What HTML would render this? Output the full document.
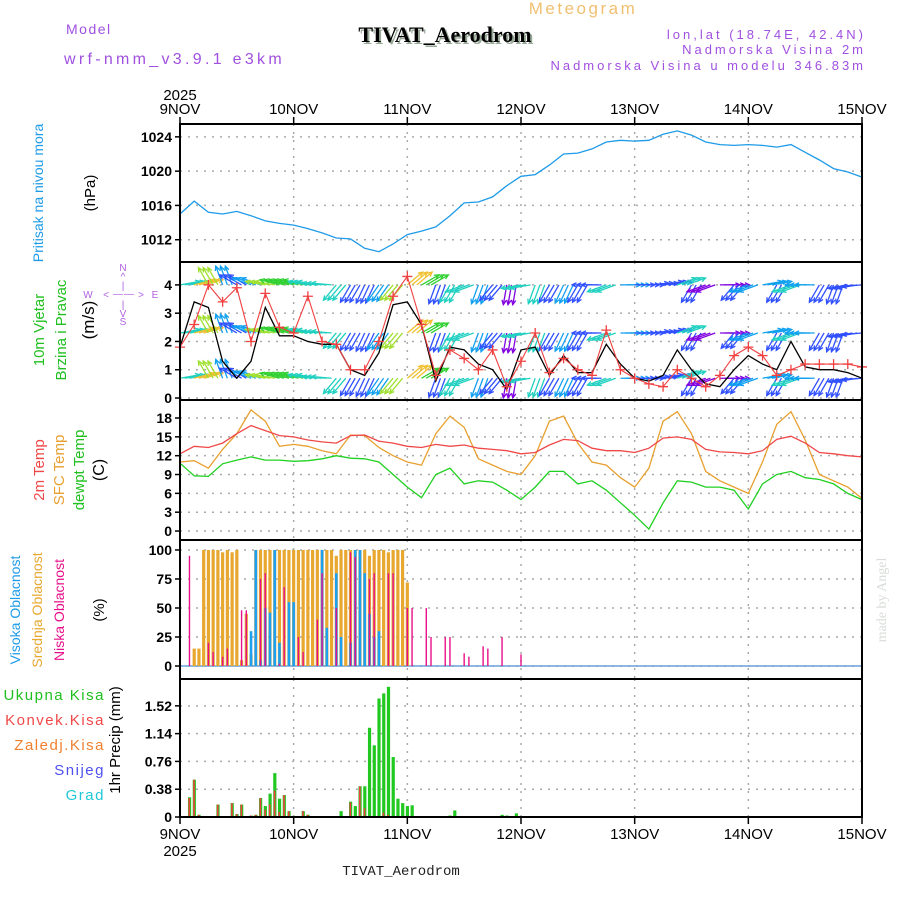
<!DOCTYPE html>
<html><head><meta charset="utf-8">
<style>
html,body{margin:0;padding:0;background:#fff;}
svg{display:block;font-family:"Liberation Sans",sans-serif;}
</style></head>
<body>
<svg id="chart" width="900" height="900" viewBox="0 0 900 900" xmlns="http://www.w3.org/2000/svg">
<rect x="0" y="0" width="900" height="900" fill="#fff"/>
<text x="583" y="14" font-size="17" fill="#f0c070" text-anchor="middle" letter-spacing="2.5">Meteogram</text>
<text x="66" y="34" font-size="14" fill="#a050e0" letter-spacing="1.5">Model</text>
<text x="64" y="64" font-size="16" fill="#a050e0" letter-spacing="3.3">wrf-nmm_v3.9.1 e3km</text>
<text x="447" y="44" font-size="22" font-weight="bold" fill="#9a9" text-anchor="middle" font-family="Liberation Serif, serif">TIVAT_Aerodrom</text>
<text x="445" y="42" font-size="22" font-weight="bold" fill="#000" text-anchor="middle" font-family="Liberation Serif, serif">TIVAT_Aerodrom</text>
<text x="866" y="39" font-size="13" fill="#a050e0" text-anchor="end" letter-spacing="3">lon,lat (18.74E, 42.4N)</text>
<text x="866" y="54" font-size="13" fill="#a050e0" text-anchor="end" letter-spacing="3">Nadmorska Visina 2m</text>
<text x="866" y="70" font-size="13" fill="#a050e0" text-anchor="end" letter-spacing="3">Nadmorska Visina u modelu 346.83m</text>
<text x="180" y="100" font-size="15" fill="#000" text-anchor="middle">2025</text>
<text x="180" y="856" font-size="15" fill="#000" text-anchor="middle">2025</text>
<text x="401" y="875" font-size="14" fill="#222" text-anchor="middle" font-family="Liberation Mono, monospace">TIVAT_Aerodrom</text>
<text transform="translate(886,600) rotate(-90)" font-size="14" fill="#d8dcd8" text-anchor="middle" font-family="Liberation Serif, serif">made by Angel</text>
<g id="g"></g>
</svg>
<script>
// ---------- DATA (3-hourly, 49 points from 9NOV 00 to 15NOV 00) ----------
const dayLabels = ["9NOV","10NOV","11NOV","12NOV","13NOV","14NOV","15NOV"];
const pressure = [1015.0,1016.5,1015.2,1015.0,1015.3,1014.8,1014.2,1013.9,
 1013.7,1013.3,1012.8,1012.2,1012.1,1011.0,1010.6,1011.5,
 1012.6,1013.0,1013.5,1014.8,1016.3,1016.4,1017.0,1018.3,
 1019.4,1019.6,1020.7,1022.0,1022.1,1022.6,1023.4,1023.6,
 1023.5,1023.6,1024.3,1024.7,1024.2,1023.4,1023.1,1023.0,
 1023.1,1023.0,1022.8,1023.1,1022.2,1021.3,1020.3,1019.9,1019.3];
const pressureTicks = [1012,1016,1020,1024];
const windSpeed = [1.8,3.4,3.2,1.3,0.7,1.3,3.2,2.2,
 2.2,2.0,1.9,1.9,1.0,0.8,1.6,3.3,
 3.4,2.6,0.6,1.8,1.7,1.2,1.0,0.3,
 1.7,1.8,0.8,1.5,0.9,0.9,1.9,1.2,
 0.7,0.6,0.8,1.7,1.0,0.5,0.4,1.0,
 1.5,1.2,1.0,2.0,1.1,1.0,1.0,0.9,0.7];
const windGust = [1.8,2.6,4.0,3.4,3.9,2.0,3.7,2.5,
 2.3,3.6,2.0,1.9,1.0,1.0,2.0,3.6,
 4.3,2.6,0.8,1.7,1.4,1.0,1.7,0.4,
 1.3,2.3,0.9,1.4,1.0,0.8,2.4,1.0,
 0.7,0.5,0.4,1.0,0.7,0.4,0.8,1.5,
 1.8,1.5,0.8,1.0,1.2,1.2,1.2,1.2,1.1];
// arrow pointing direction in degrees (0 = east/right, 90 = north/up)
const windDir = [10,15,120,110,150,160,170,165,
 165,170,175,230,240,245,235,230,
 40,30,250,240,200,250,230,260,
 190,250,240,245,240,180,200,0,
 0,5,10,20,240,200,0,230,
 200,10,240,200,180,240,250,190,185];
const windTicks = [0,1,2,3,4];
const windRows = [4.0,2.3,0.7];
const temp2m = [12.3,13.5,13.3,14.0,15.5,16.8,16.0,15.2,
 15.0,14.5,14.2,14.0,15.2,15.3,14.3,14.0,
 13.5,13.3,13.8,13.5,13.7,13.2,13.0,12.8,
 12.3,12.5,13.7,14.6,14.4,13.2,12.8,12.8,
 12.5,13.2,14.8,15.0,14.6,13.0,12.6,12.5,
 12.3,12.8,14.6,15.1,14.0,12.5,12.3,12.0,11.8];
const tempSfc = [11.0,11.2,10.0,13.0,15.5,19.3,17.5,13.5,
 13.8,13.5,12.8,12.3,15.3,15.2,13.3,12.0,
 11.0,10.5,15.5,18.3,16.5,11.5,10.5,9.5,
 9.0,12.0,17.5,18.3,14.0,11.0,10.5,8.5,
 7.0,10.0,17.5,19.0,15.5,9.5,8.0,7.0,
 6.0,11.0,17.0,19.0,14.5,9.0,8.0,7.0,5.2];
const tempDew = [10.8,8.8,8.7,10.7,11.3,11.8,11.3,11.3,
 11.1,11.2,11.5,12.0,11.6,11.5,11.0,9.0,
 7.0,5.3,9.0,10.0,7.5,8.0,7.8,6.5,
 5.0,7.0,9.5,9.5,7.5,8.0,6.5,4.5,
 2.5,0.3,4.5,8.0,7.8,7.0,7.0,6.5,
 3.5,7.5,9.0,9.5,8.5,8.2,7.5,6.0,5.0];
const tempTicks = [0,3,6,9,12,15,18];
// hourly (first 73 hours; later hours are zero)
const cloudMid = [0,0,0,15,15,100,100,100,100,98,100,98,100,5,45,10,
 100,100,100,100,100,100,100,100,100,100,100,100,100,100,100,100,
 100,95,100,100,100,100,100,100,95,100,100,100,98,100,100,100,72];
const cloudHigh = [0,0,0,0,0,0,0,0,0,0,0,0,0,0,0,30,100,5,50,46,100,20,0,55,55,
 0,0,0,0,0,100,33,0,80,25,0,20,100,100,80,45,25,30,0,0,0,0,0,0];
const cloudLow = [0,0,95,0,0,0,20,12,0,8,15,0,0,48,48,0,0,75,80,0,0,2,68,0,0,25,12,0,0,40,80,0,0,50,
 0,0,98,94,0,0,75,80,0,0,80,80,0,0,50,50,0,0,50,25,0,0,25,25,0,0,11,8,0,0,17,15,0,0,25,0,0,0,10];
const cloudTicks = [0,25,50,75,100];
const precipTotal = [0,0,0.27,0.51,0.03,0,0.01,0.01,0.17,0,0,0.19,0.04,0.17,0,0.02,0.03,0.26,0.15,0.32,0.6,0.25,0.3,0.08,
 0,0,0.08,0.03,0,0,0,0,0,0.01,0.08,0.01,0.21,0.15,0.42,0.42,1.22,0.98,1.62,1.69,1.78,0.82,0.25,0.19,
 0.15,0.16,0,0,0,0,0,0,0,0.02,0.09,0,0,0,0,0,0,0,0,0,0.03,0.02,0,0.05,0];
const precipConv = [0,0,0.26,0.51,0.03,0,0,0,0.17,0,0,0.19,0.04,0.17,0,0.02,0.03,0.26,0.1,0.17,0.36,0.07,0.3,0.08,
 0,0,0.08,0.03,0,0,0,0,0,0,0,0,0.2,0,0.42,0.12,0,0,0,0.06,0.03,0,0,0,
 0,0,0,0,0,0,0,0,0,0,0,0,0,0,0,0,0,0,0,0,0,0,0,0,0];
const precipTicks = [0,0.38,0.76,1.14,1.52];

// ---------- LAYOUT ----------
const X0=180, X1=862, HOURS=144;
const panels = {
  p:{top:124,bot:262,min:1009.4,max:1025.5},
  w:{top:262,bot:400,min:-0.07,max:4.81},
  t:{top:400,bot:540,min:-1.43,max:20.87},
  c:{top:540,bot:679,min:-11.2,max:108.6},
  r:{top:679,bot:817,min:0,max:1.887}
};
const NS="http://www.w3.org/2000/svg";
const g=document.getElementById('g');
function xh(h){return X0+(X1-X0)*h/HOURS;}
function xi(i){return xh(i*3);}
function yv(p,v){return p.bot-(v-p.min)/(p.max-p.min)*(p.bot-p.top);}
function mk(tag,attrs,parent){const e=document.createElementNS(NS,tag);for(const k in attrs)e.setAttribute(k,attrs[k]);(parent||g).appendChild(e);return e;}
function txt(s,x,y,attrs){const e=mk('text',Object.assign({x:x,y:y},attrs));e.textContent=s;return e;}

// panel grids, ticks
for(const key in panels){
  const p=panels[key];
  const ticks={p:pressureTicks,w:windTicks,t:tempTicks,c:cloudTicks,r:precipTicks}[key];
  const grid=mk('g',{});
  
  
  for(let d=1;d<6;d++){mk('line',{x1:xh(d*24),x2:xh(d*24),y1:p.top,y2:p.bot,stroke:'#aaa','stroke-dasharray':'2,6','stroke-width':1.5},grid);}
  ticks.forEach(v=>{
    const y=yv(p,v);
    mk('line',{x1:X0,x2:X1,y1:y,y2:y,stroke:'#aaa','stroke-dasharray':'2,6','stroke-width':1.5},grid);
    mk('line',{x1:X0-5,x2:X0,y1:y,y2:y,stroke:'#000','stroke-width':1.5},grid);
    const lbl=(key==='r'&&v!==0)?v.toFixed(2):String(v);
    const t=txt(lbl,X0-8,y+5,{'font-size':14,'font-weight':'bold','text-anchor':'end',fill:'#000'});
    
    
  });
}

// pressure line
{
  const p=panels.p;
  const d=pressure.map((v,i)=>(i?'L':'M')+xi(i).toFixed(1)+','+yv(p,v).toFixed(1)).join('');
  const e=mk('path',{d:d,fill:'none',stroke:'#1e9be8','stroke-width':1.3});
  
  
}

// wind arrows
function speedColor(s){
  const cols=['#8000e0','#3050ff','#10a0f0','#20d0c0','#30d030','#a0e030','#f0c030','#f08020'];
  return cols[Math.min(cols.length-1,Math.max(0,Math.floor(s/0.55)))];
}
{
  const p=panels.w;
  windRows.forEach((rv,ri)=>{
    windDir.forEach((dir,i)=>{
      const col=speedColor(windSpeed[i]);
      [0,4.7,9.5].forEach(off=>{
        if(i===windDir.length-1 && off>0) return;
        const x=xi(i)+off, y=yv(p,rv);
        const a=dir*Math.PI/180, L=20;
        const x2=x+L*Math.cos(a), y2=y-L*Math.sin(a);
        const ar=mk('g',{});
        
        
        mk('line',{x1:x,y1:y,x2:x2,y2:y2,stroke:col,'stroke-width':1.3},ar);
        const ha=0.45,hl=5;
        mk('path',{d:`M${x2-hl*Math.cos(a-ha)},${y2+hl*Math.sin(a-ha)}L${x2},${y2}L${x2-hl*Math.cos(a+ha)},${y2+hl*Math.sin(a+ha)}`,fill:'none',stroke:col,'stroke-width':1.3},ar);
      });
    });
  });
  const sd=windSpeed.map((v,i)=>(i?'L':'M')+xi(i).toFixed(1)+','+yv(p,v).toFixed(1)).join('');
  const sl=mk('path',{d:sd,fill:'none',stroke:'#000','stroke-width':1.3});
  
  
  const gd=windGust.map((v,i)=>(i?'L':'M')+xi(i).toFixed(1)+','+yv(p,v).toFixed(1)).join('');
  const gl=mk('path',{d:gd,fill:'none',stroke:'#f04040','stroke-width':1.1});
  
  
  windGust.forEach((v,i)=>{
    const x=xi(i),y=yv(p,v);
    const c=mk('path',{d:`M${x-5},${y}H${x+5}M${x},${y-5}V${y+5}`,stroke:'#f04040','stroke-width':1.3});
    
    
  });
}

// temperature lines
[[tempSfc,'#e8a030','sfc-temp-line'],[temp2m,'#f04848','temp-2m-line'],[tempDew,'#20d020','dewpoint-line']].forEach(([arr,col,name])=>{
  const p=panels.t;
  const d=arr.map((v,i)=>(i?'L':'M')+xi(i).toFixed(1)+','+yv(p,v).toFixed(1)).join('');
  const e=mk('path',{d:d,fill:'none',stroke:col,'stroke-width':1.3});
  
  
});

// cloud bars
{
  const p=panels.c;
  mk('line',{x1:X0,x2:X1,y1:yv(p,0),y2:yv(p,0),stroke:'#6aa0d8','stroke-width':1.5});
  cloudMid.forEach((v,h)=>{ if(!v)return; const r=mk('rect',{x:xh(h)-1.6,y:yv(p,v),width:3.2,height:yv(p,0)-yv(p,v),fill:'#e8a830'});
     });
  cloudHigh.forEach((v,h)=>{ if(!v)return; const r=mk('rect',{x:xh(h)-1.3,y:yv(p,v),width:2.6,height:yv(p,0)-yv(p,v),fill:'#1ea0f0'});
     });
  cloudLow.forEach((v,h)=>{ if(!v)return; const r=mk('rect',{x:xh(h)-0.7,y:yv(p,v),width:1.4,height:yv(p,0)-yv(p,v),fill:'#e8108a'});
     });
}

// precip bars
{
  const p=panels.r;
  precipTotal.forEach((v,h)=>{ if(!v)return; const r=mk('rect',{x:xh(h)-1.5,y:yv(p,v),width:3.2,height:yv(p,0)-yv(p,v),fill:'#20c820'});
     });
  precipConv.forEach((v,h)=>{ if(!v)return; const r=mk('rect',{x:xh(h)-1,y:yv(p,v),width:1.6,height:yv(p,0)-yv(p,v),fill:'#f04040'});
     });
}

// frames
for(const key in panels){const p=panels[key];
  const f=mk('rect',{x:X0,y:p.top,width:X1-X0,height:p.bot-p.top,fill:'none',stroke:'#000','stroke-width':2});
   }

// x labels
dayLabels.forEach((s,i)=>{
  const x=xh(i*24);
  mk('line',{x1:x,x2:x,y1:117,y2:124,stroke:'#000','stroke-width':1.5});
  mk('line',{x1:x,x2:x,y1:817,y2:824,stroke:'#000','stroke-width':1.5});
  const a=txt(s,x,114,{'font-size':15,'text-anchor':'middle',fill:'#000'});
   
  const b=txt(s,x,839,{'font-size':15,'text-anchor':'middle',fill:'#000'});
   
});

// axis titles
function vt(s,x,y,col,name,fs){const e=txt(s,0,0,{transform:`translate(${x},${y}) rotate(-90)`,'font-size':fs||15,fill:col,'text-anchor':'middle'});
   }
vt('Pritisak na nivou mora',43,193,'#1e9be8','pressure-axis-title',14);
vt('(hPa)',95,193,'#000','pressure-unit');
vt('10m Vjetar',44,330,'#20c020','wind-axis-title',15);
vt('Brzina i Pravac',66,330,'#20c020','wind-axis-title-2',15);
vt('(m/s)',94,320,'#000','wind-unit',17);
vt('2m Temp',44,470,'#f04848','temp-2m-title',15);
vt('SFC Temp',64,470,'#e8a030','sfc-temp-title',15);
vt('dewpt Temp',84,470,'#20c020','dewpt-title',15);
vt('(C)',104,470,'#000','temp-unit',16);
vt('Visoka Oblacnost',20,610,'#1e9be8','high-cloud-title',14);
vt('Srednja Oblacnost',42,610,'#e8a830','mid-cloud-title',14);
vt('Niska Oblacnost',64,610,'#e8108a','low-cloud-title',14);
vt('(%)',104,610,'#000','cloud-unit',15);
vt('1hr Precip (mm)',120,740,'#000','precip-axis-title',15);
// precip legend
[['Ukupna Kisa','#20c020',700],['Konvek.Kisa','#f04848',725],['Zaledj.Kisa','#f08030',750],['Snijeg','#5050f0',775],['Grad','#20c8d8',800]].forEach(([s,c,y])=>{
  const e=txt(s,105,y,{'font-size':15,fill:c,'text-anchor':'end','letter-spacing':'1.5'});
   
});
// compass
{
  const cg=mk('g',{});
   
  const items=[['N',123,271],['^',123,280],['|',123,289],['W',88,298],['<',106,298],['—',118,297],['—',129,297],['>',141,298],['E',155,298],['|',123,308],['V',123,317],['S',123,325]];
  items.forEach(([s,x,y])=>{const e=document.createElementNS(NS,'text');e.setAttribute('x',x);e.setAttribute('y',y);e.setAttribute('text-anchor','middle');e.setAttribute('font-size','10');e.setAttribute('fill','#b060e0');e.textContent=s;cg.appendChild(e);});
}
</script>
</body></html>
